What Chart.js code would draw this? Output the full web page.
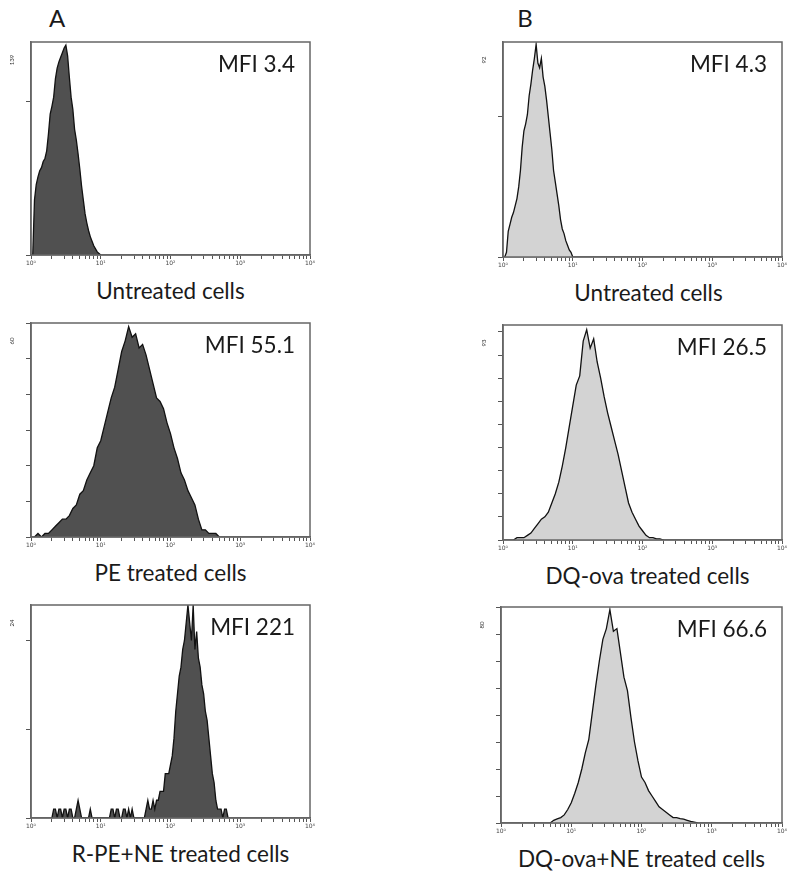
<!DOCTYPE html>
<html>
<head>
<meta charset="utf-8">
<script src="https://cdn.jsdelivr.net/npm/chart.js@4"></script>
<style>
  body { margin: 0; background: #fff; width: 800px; height: 886px; position: relative; overflow: hidden;
         font-family: Lato, "Open Sans", sans-serif; color: #1a1a1a; }
  .t { position: absolute; white-space: nowrap; line-height: 1; font-size: 22.5px; }
  .big { font-size: 24px; }
  .ymax { position: absolute; font-size: 6px; line-height: 1; color: #333; transform: translate(-50%, -50%) rotate(-90deg); }
  canvas { position: absolute; }
</style>
</head>
<body>
<script>
// x axis: log decades 10^0 .. 10^4
const decades = [0, 1, 2, 3, 4];
const decadeLabels = ['10⁰', '10¹', '10²', '10³', '10⁴'];

// column A: R-PE
const a1Start = 0.025, a1Step = 0.025;
const a1Counts = [0, 36, 46, 51, 55, 57, 61, 63, 68, 79, 92, 97, 103, 115, 122, 126, 129, 132, 135, 137,
  130, 116, 103, 95, 82, 75, 66, 56, 45, 36, 27, 21, 16, 12, 9, 6, 4, 2, 1, 0];

const a2Start = 0.05, a2Step = 0.05;
const a2Counts = [0, 1, 0, 1, 1, 2, 3, 4, 5, 5, 6, 8, 9, 12, 13, 16, 18, 20, 25, 27,
  31, 35, 39, 42, 47, 52, 55, 59, 56, 57, 53, 54, 51, 47, 43, 39, 38, 36, 32, 29,
  25, 22, 18, 16, 13, 11, 9, 5, 2, 2, 1, 1, 1, 0];

const a3Start = 0.3, a3Step = 0.025;
const a3Counts = [0, 1, 1, 0, 1, 1, 0, 1, 1, 0, 1, 1, 0, 0, 1, 2, 1, 0, 0, 0,
  0, 0, 1, 0, 0, 0, 0, 0, 0, 0, 0, 0, 0, 0, 1, 1, 0, 1, 1, 0,
  0, 1, 1, 0, 1, 0, 1, 0, 0, 0, 0, 0, 0, 0, 1, 2, 1, 1, 2, 1,
  2, 2, 3, 3, 3, 5, 5, 5, 6, 7, 9, 12, 14, 16, 17, 19, 20, 22, 24, 22,
  20, 24, 19, 21, 18, 17, 15, 14, 12, 11, 9, 7, 5, 4, 2, 1, 1, 1, 0, 1,
  1, 0];

// column B: DQ-ova
const b1Start = 0.025, b1Step = 0.025;
const b1Counts = [0, 2, 11, 14, 17, 19, 22, 25, 30, 37, 47, 54, 57, 61, 69, 74, 80, 85, 91, 83,
  81, 85, 77, 73, 67, 60, 53, 46, 37, 32, 27, 22, 16, 12, 10, 7, 5, 3, 2, 0];

const b2Start = 0.15, b2Step = 0.05;
const b2Counts = [0, 1, 1, 1, 2, 3, 5, 7, 9, 10, 12, 16, 20, 25, 32, 40, 49, 58, 67, 71,
  86, 91, 83, 87, 77, 70, 62, 55, 49, 43, 37, 30, 23, 16, 12, 9, 6, 4, 2, 1,
  1, 0.5, 0.5, 0];

const b3Start = 0.7, b3Step = 0.05;
const b3Counts = [0, 1, 1.5, 2, 3, 5, 7.5, 11, 15, 20, 26, 31, 41, 51, 60, 68, 72, 79, 71, 72,
  63, 54, 49, 39, 30, 23, 17, 15, 12, 10, 8, 6, 5, 4, 3, 2, 2, 1.6, 1.4, 1,
  0.6, 0.3, 0];

const labelsA = ['Untreated cells', 'PE treated cells', 'R-PE+NE treated cells'];
const labelsB = ['Untreated cells', 'DQ-ova treated cells', 'DQ-ova+NE treated cells'];
const mfiA = ['MFI 3.4', 'MFI 55.1', 'MFI 221'];
const mfiB = ['MFI 4.3', 'MFI 26.5', 'MFI 66.6'];
const yMaxA = [139, 60, 24], yStepA = [100, 10, 10];
const yMaxB = [92, 93, 80], yStepB = [60, 10, 10];

const xTickValues = [];
decades.slice(0, 4).forEach(d => { for (let k = 1; k <= 9; k++) xTickValues.push(d + Math.log10(k)); });
xTickValues.push(4);

const panels = [
  { area: { left: 31, top: 42, right: 310, bottom: 255 }, start: a1Start, step: a1Step, counts: a1Counts, label: labelsA[0], mfi: mfiA[0], yMax: yMaxA[0], yStep: yStepA[0], fill: '#505050', dx: 0 },
  { area: { left: 31, top: 323, right: 310, bottom: 537 }, start: a2Start, step: a2Step, counts: a2Counts, label: labelsA[1], mfi: mfiA[1], yMax: yMaxA[1], yStep: yStepA[1], fill: '#505050', dx: 0 },
  { area: { left: 31, top: 605, right: 310, bottom: 818 }, start: a3Start, step: a3Step, counts: a3Counts, label: labelsA[2], mfi: mfiA[2], yMax: yMaxA[2], yStep: yStepA[2], fill: '#505050', dx: 10 },
  { area: { left: 503, top: 42, right: 782, bottom: 257 }, start: b1Start, step: b1Step, counts: b1Counts, label: labelsB[0], mfi: mfiB[0], yMax: yMaxB[0], yStep: yStepB[0], fill: '#d3d3d3', dx: 6 },
  { area: { left: 503, top: 325, right: 782, bottom: 540 }, start: b2Start, step: b2Step, counts: b2Counts, label: labelsB[1], mfi: mfiB[1], yMax: yMaxB[1], yStep: yStepB[1], fill: '#d3d3d3', dx: 5 },
  { area: { left: 501, top: 607, right: 782, bottom: 823 }, start: b3Start, step: b3Step, counts: b3Counts, label: labelsB[2], mfi: mfiB[2], yMax: yMaxB[2], yStep: yStepB[2], fill: '#d3d3d3', dx: 0 }
];

const boxPlugin = {
  id: 'box',
  afterDraw(chart) {
    const { ctx, chartArea: a } = chart;
    ctx.save();
    ctx.strokeStyle = '#666';
    ctx.lineWidth = 1.5;
    ctx.strokeRect(a.left, a.top, a.right - a.left, a.bottom - a.top);
    ctx.restore();
  }
};

function addText(cls, txt, x, y, tf) {
  const d = document.createElement('div');
  d.className = cls;
  d.textContent = txt;
  d.style.left = x + 'px';
  d.style.top = y + 'px';
  if (tf) d.style.transform = tf;
  document.body.appendChild(d);
}

function makePanel(p) {
  const a = p.area;
  const c = document.createElement('canvas');
  c.width = a.right - a.left + 18;
  c.height = a.bottom - a.top + 24;
  c.style.left = (a.left - 10) + 'px';
  c.style.top = (a.top - 8) + 'px';
  document.body.appendChild(c);

  const pts = p.counts.map((v, i) => ({ x: p.start + i * p.step, y: v }));

  new Chart(c, {
    type: 'line',
    data: {
      datasets: [{
        data: pts,
        fill: 'origin',
        backgroundColor: p.fill,
        borderColor: '#111',
        borderWidth: 1.3,
        pointRadius: 0,
        tension: 0
      }]
    },
    options: {
      responsive: false,
      animation: false,
      events: [],
      layout: { padding: { left: 2, top: 8, right: 8, bottom: 2 } },
      plugins: { legend: { display: false }, tooltip: { enabled: false } },
      scales: {
        x: {
          type: 'linear', min: 0, max: 4,
          afterFit: s => { s.height = 14; },
          afterBuildTicks: s => { s.ticks = xTickValues.map(v => ({ value: v })); },
          grid: { drawOnChartArea: false, tickLength: 4, color: '#555' },
          border: { color: '#666', width: 1.5 },
          ticks: {
            autoSkip: false, maxRotation: 0, padding: 1, color: '#444',
            font: { size: 6, family: 'DejaVu Sans' },
            callback: v => Number.isInteger(v) ? decadeLabels[v] : ''
          }
        },
        y: {
          min: 0, max: p.yMax,
          afterFit: s => { s.width = 8; },
          grid: { drawOnChartArea: false, tickLength: 5, color: '#555' },
          border: { color: '#666', width: 1.5 },
          ticks: { display: false, stepSize: p.yStep, includeBounds: false }
        }
      }
    },
    plugins: [boxPlugin]
  });

  addText('t', p.mfi, a.right - 15, a.top + 11, 'translateX(-100%)');
  addText('t', p.label, (a.left + a.right) / 2 + p.dx, a.bottom + 25, 'translateX(-50%)');
  addText('ymax', String(p.yMax), a.left - 19, a.top + 18);
}

panels.forEach(makePanel);

addText('t big', 'A', 57, 6, 'translateX(-50%)');
addText('t big', 'B', 525, 6, 'translateX(-50%)');
</script>
</body>
</html>
